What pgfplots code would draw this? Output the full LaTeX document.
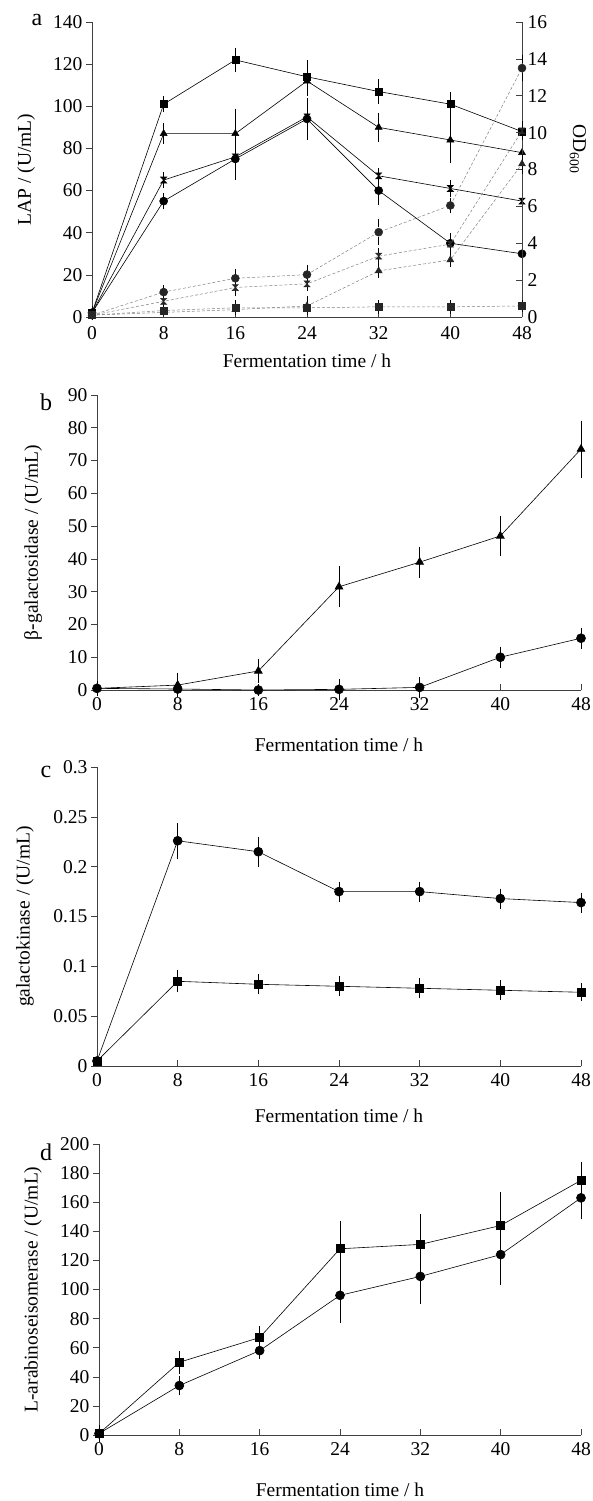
\documentclass[border=0pt]{standalone}
\usepackage{fontspec}
\setmainfont{Liberation Serif}
\usepackage{pgfplots}
\pgfplotsset{compat=1.18}

\pgfdeclareplotmark{hourglass}{%
  \pgfpathmoveto{\pgfqpoint{-\pgfplotmarksize}{\pgfplotmarksize}}%
  \pgfpathlineto{\pgfqpoint{\pgfplotmarksize}{\pgfplotmarksize}}%
  \pgfpathlineto{\pgfqpoint{-\pgfplotmarksize}{-\pgfplotmarksize}}%
  \pgfpathlineto{\pgfqpoint{\pgfplotmarksize}{-\pgfplotmarksize}}%
  \pgfpathclose
  \pgfusepathqfillstroke}

\newcommand{\figfont}{\fontsize{19.5}{22}\selectfont}
\pgfplotsset{
  panel/.style={
    scale only axis, clip=false,
    xmin=0, xmax=48, xtick={0,8,16,24,32,40,48},
    axis line style={draw=black!75, line width=.8pt, -},
    tick style={draw=black!75, line width=.6pt},
    major tick length=6pt,
    xtick align=inside, ytick align=outside,
    tick label style={font=\figfont},
    xticklabel style={yshift=-4pt},
    /pgf/number format/assume math mode=true,
    every axis plot/.append style={line width=.6pt, black},
    error bars/error bar style={line width=.6pt, black},
    error bars/error mark options={mark size=4pt, line width=.6pt, black},
  },
  xlab/.style={every axis x label/.style={at={(axis description cs:0.5,#1)}, anchor=center, font=\figfont}},
  ylab/.style={every axis y label/.style={at={(axis description cs:#1,0.5)}, anchor=center, rotate=90, font=\figfont}},
  od/.style={densely dashed, draw=black!50, line width=.5pt,
    mark options={solid, fill=black!85, draw=black!85}},
}

\begin{document}
\begin{tikzpicture}
\useasboundingbox (0,0) rectangle (592pt,-1501pt);

% ---------------- a ----------------
\node[font=\fontsize{24}{26}\selectfont] at (37pt,-20pt) {a};
\begin{axis}[panel, at={(92pt,-317pt)}, anchor=south west,
  width=430pt, height=295pt,
  axis x line*=bottom, axis y line*=left,
  ymin=0, ymax=140, ytick={0,20,...,140},
  xticklabel style={yshift=-2pt},
  xlabel={Fermentation time / h}, xlab=-0.148,
  ylabel={LAP / (U/mL)}, ylab=-0.153,
]
\addplot[mark=square*, mark size=3.5pt, error bars/.cd, y dir=both, y explicit]
  coordinates {(0,2)+-(0,1.5) (8,101)+-(0,2) (16,122)+-(0,4) (24,114)+-(0,6)
               (32,107)+-(0,4) (40,101)+-(0,4) (48,88)+-(0,4)};
\addplot[mark=triangle*, mark size=4pt, error bars/.cd, y dir=both, y explicit]
  coordinates {(0,2)+-(0,1.5) (8,87)+-(0,3) (16,87)+-(0,10) (24,112)+-(0,5)
               (32,90)+-(0,5) (40,84)+-(0,9) (48,78)+-(0,3)};
\addplot[mark=hourglass, mark size=3pt, error bars/.cd, y dir=both, y explicit]
  coordinates {(0,2)+-(0,1.5) (8,65)+-(0,2) (16,76)+-(0,3) (24,95)+-(0,3)
               (32,67)+-(0,2) (40,61)+-(0,2) (48,55)+-(0,4)};
\addplot[mark=*, mark size=4pt, error bars/.cd, y dir=both, y explicit]
  coordinates {(0,2)+-(0,1.5) (8,55)+-(0,2) (16,75)+-(0,8) (24,94)+-(0,8)
               (32,60)+-(0,5) (40,35)+-(0,3) (48,30)+-(0,3)};
\end{axis}
\begin{axis}[panel, at={(92pt,-317pt)}, anchor=south west,
  width=430pt, height=295pt,
  axis x line=none, axis y line*=right,
  ytick align=inside,
  ymin=0, ymax=16, ytick={0,2,...,16},
  yticklabel style={xshift=2pt},
  ylabel={OD\textsubscript{600}},
  every axis y label/.style={at={(axis description cs:1.13,0.57)}, anchor=center, rotate=-90, font=\figfont},
]
\addplot[od, mark=*, mark size=4pt, error bars/.cd, y dir=both, y explicit]
  coordinates {(0,0.1) (8,1.35)+-(0,0.15) (16,2.1)+-(0,0.3) (24,2.3)+-(0,0.3)
               (32,4.6)+-(0,0.5) (40,6.05)+-(0,0.2) (48,13.5)+-(0,0.5)};
\addplot[od, mark=hourglass, mark size=3pt, error bars/.cd, y dir=both, y explicit]
  coordinates {(0,0.1) (8,0.85)+-(0,0.1) (16,1.6)+-(0,0.25) (24,1.8)+-(0,0.15)
               (32,3.3)+-(0,0.2) (40,3.95)+-(0,0.15) (48,10.1)+-(0,0.3)};
\addplot[od, mark=triangle*, mark size=4pt, error bars/.cd, y dir=both, y explicit]
  coordinates {(0,0.1) (8,0.25) (16,0.4) (24,0.6)+-(0,0.3)
               (32,2.5)+-(0,0.15) (40,3.1)+-(0,0.15) (48,8.3)+-(0,0.3)};
\addplot[od, mark=square*, mark size=3.5pt, error bars/.cd, y dir=both, y explicit]
  coordinates {(0,0.1) (8,0.35)+-(0,0.1) (16,0.5)+-(0,0.2) (24,0.5)+-(0,0.2)
               (32,0.55)+-(0,0.15) (40,0.55)+-(0,0.15) (48,0.6)+-(0,0.1)};
\end{axis}

% ---------------- b ----------------
\node[font=\fontsize{24}{26}\selectfont] at (46pt,-402pt) {b};
\begin{axis}[panel, at={(97pt,-690pt)}, anchor=south west,
  width=484pt, height=295pt,
  axis x line*=bottom, axis y line*=left,
  ymin=0, ymax=90, ytick={0,10,...,90},
  xlabel={Fermentation time / h}, xlab=-0.186,
  ylabel={β-galactosidase / (U/mL)}, ylab=-0.132,
]
\addplot[mark=triangle*, mark size=4.5pt, error bars/.cd, y dir=both, y explicit]
  coordinates {(0,0.5)+-(0,1) (8,1.5)+-(0,2.5) (16,5.8)+-(0,2.3) (24,31.5)+-(0,5)
               (32,39)+-(0,3.5) (40,47)+-(0,5) (48,73.5)+-(0,7.5)};
\addplot[mark=*, mark size=4.5pt, error bars/.cd, y dir=both, y explicit]
  coordinates {(0,0.5)+-(0,1) (8,0.3)+-(0,1) (16,0)+-(0,0.5) (24,0.2)+-(0,2)
               (32,0.8)+-(0,2) (40,10)+-(0,2) (48,15.8)+-(0,2)};
\end{axis}

% ---------------- c ----------------
\node[font=\fontsize{24}{26}\selectfont] at (46pt,-772pt) {c};
\begin{axis}[panel, at={(97pt,-1066pt)}, anchor=south west,
  width=484pt, height=299pt,
  axis x line*=bottom, axis y line*=left,
  ymin=0, ymax=0.3, ytick={0,0.05,0.1,0.15,0.2,0.25,0.3},
  yticklabels={0,0.05,0.1,0.15,0.2,0.25,0.3},
  xlabel={Fermentation time / h}, xlab=-0.167,
  ylabel={galactokinase / (U/mL)}, ylab=-0.149,
]
\addplot[mark=*, mark size=4.5pt, error bars/.cd, y dir=both, y explicit]
  coordinates {(0,0.005) (8,0.226)+-(0,0.014) (16,0.215)+-(0,0.011) (24,0.175)+-(0,0.006)
               (32,0.175)+-(0,0.006) (40,0.168)+-(0,0.006) (48,0.164)+-(0,0.006)};
\addplot[mark=square*, mark size=4pt, error bars/.cd, y dir=both, y explicit]
  coordinates {(0,0.005) (8,0.085)+-(0,0.007) (16,0.082)+-(0,0.006) (24,0.080)+-(0,0.006)
               (32,0.078)+-(0,0.006) (40,0.076)+-(0,0.006) (48,0.074)+-(0,0.005)};
\end{axis}

% ---------------- d ----------------
\node[font=\fontsize{24}{26}\selectfont] at (46pt,-1152pt) {d};
\begin{axis}[panel, at={(99pt,-1435pt)}, anchor=south west,
  width=482pt, height=291pt,
  axis x line*=bottom, axis y line*=left,
  ymin=0, ymax=200, ytick={0,20,...,200},
  xlabel={Fermentation time / h}, xlab=-0.189,
  ylabel={L-arabinoseisomerase / (U/mL)}, ylab=-0.137,
]
\addplot[mark=square*, mark size=4pt, error bars/.cd, y dir=both, y explicit]
  coordinates {(0,1)+-(0,3) (8,50)+-(0,5) (16,67)+-(0,5) (24,128)+-(0,16)
               (32,131)+-(0,18) (40,144)+-(0,20) (48,175)+-(0,10)};
\addplot[mark=*, mark size=4.5pt, error bars/.cd, y dir=both, y explicit]
  coordinates {(0,1)+-(0,3) (8,34)+-(0,4) (16,58)+-(0,3) (24,96)+-(0,16)
               (32,109)+-(0,16) (40,124)+-(0,18) (48,163)+-(0,12)};
\end{axis}
\end{tikzpicture}
\end{document}
